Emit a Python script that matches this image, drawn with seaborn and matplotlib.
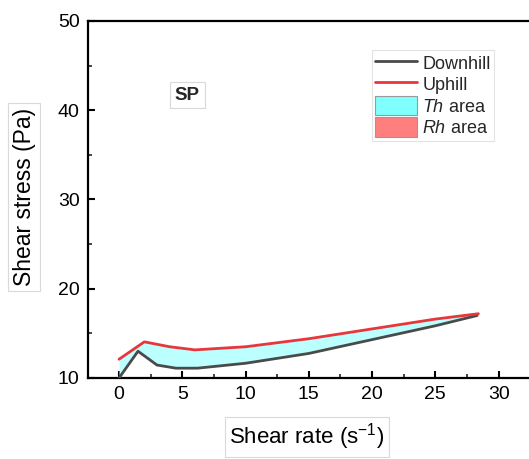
import matplotlib
matplotlib.use("Agg")
import matplotlib.pyplot as plt
import seaborn as sns
import numpy as np
import pandas as pd
from matplotlib.patches import Patch
from matplotlib.lines import Line2D
from matplotlib.ticker import MultipleLocator

# Data
down_x = [0, 1.5, 3, 4.5, 6.2, 10, 15, 20, 25, 28.3]
down_y = [10.0, 13.0, 11.45, 11.1, 11.1, 11.65, 12.75, 14.3, 15.85, 17.0]
up_x = [0, 2, 4, 6, 10, 15, 20, 25, 28.4]
up_y = [12.1, 14.05, 13.5, 13.15, 13.5, 14.4, 15.5, 16.6, 17.2]

sns.set_theme(style="white")
plt.rcParams['font.family'] = ['Liberation Sans', 'DejaVu Sans']
plt.rcParams['mathtext.fontset'] = 'custom'
plt.rcParams['mathtext.it'] = 'Liberation Sans:italic'
plt.rcParams['mathtext.rm'] = 'Liberation Sans'

fig = plt.figure(figsize=(5.29, 4.59), dpi=100)
ax = fig.add_axes([0.1664, 0.1765, 1.0 - 0.1664, 0.7778])

down_c = "#4a4a4a"
up_c = "#e8363c"
th_c = "#bbffff"

# fill between on common grid
grid = np.linspace(0, 28.35, 400)
d_i = np.interp(grid, down_x, down_y)
u_i = np.interp(grid, up_x, up_y)
ax.fill_between(grid, d_i, u_i, color=th_c, lw=0, zorder=1)

df_d = pd.DataFrame({"x": down_x, "y": down_y})
df_u = pd.DataFrame({"x": up_x, "y": up_y})
sns.lineplot(data=df_d, x="x", y="y", ax=ax, color=down_c, lw=2, zorder=3)
sns.lineplot(data=df_u, x="x", y="y", ax=ax, color=up_c, lw=2, zorder=3)

ax.set_xlim(-2.45, 32.4)
ax.set_ylim(10, 50)
ax.xaxis.set_major_locator(MultipleLocator(5))
ax.xaxis.set_minor_locator(MultipleLocator(2.5))
ax.yaxis.set_major_locator(MultipleLocator(10))
ax.yaxis.set_minor_locator(MultipleLocator(5))
ax.set_xticks([0, 5, 10, 15, 20, 25, 30])

for s in ["left", "bottom", "top"]:
    ax.spines[s].set_visible(True)
    ax.spines[s].set_color("black")
    ax.spines[s].set_linewidth(1.6)
ax.spines["right"].set_visible(False)

ax.tick_params(axis="both", which="major", direction="in", length=5, width=1.5,
               labelsize=14, colors="black", pad=6, left=True, bottom=True)
ax.tick_params(axis="both", which="minor", direction="in", length=3, width=1.2,
               left=True, bottom=True)
ax.tick_params(axis="x", which="both", top=False)

box = dict(boxstyle="square,pad=0.2", fc="white", ec="#d9d9d9", lw=0.8)
ax.set_xlabel("Shear rate (s$^{-1}$)", fontsize=16, color="black", bbox=box, va="center")
ax.set_ylabel("Shear stress (Pa)", fontsize=16.5, color="black", bbox=box, va="center")
ax.xaxis.set_label_coords(0.4966, -0.165)
ax.yaxis.set_label_coords(-0.145, 0.507)

ax.text(5.4, 41.7, "SP", fontsize=13.5, fontweight="bold", ha="center", va="center",
        bbox=dict(boxstyle="square,pad=0.25", fc="white", ec="#d9d9d9", lw=0.8))

handles = [
    Line2D([0], [0], color=down_c, lw=2),
    Line2D([0], [0], color=up_c, lw=2),
    Patch(fc="#80ffff", ec="#999999", lw=0.8),
    Patch(fc="#ff7f7f", ec="#999999", lw=0.8),
]
labels = ["Downhill", "Uphill", "$\\it{Th}$ area", "$\\it{Rh}$ area"]
leg = ax.legend(handles, labels, loc="upper left", bbox_to_anchor=(0.643, 0.92),
                frameon=True, fancybox=False, fontsize=13, handlelength=2.3,
                handleheight=1.25, borderpad=0.2, labelspacing=0.1, handletextpad=0.3,
                borderaxespad=0)
leg.get_frame().set_edgecolor("#dddddd")
leg.get_frame().set_linewidth(0.8)

fig.savefig("out.png", dpi=100)
